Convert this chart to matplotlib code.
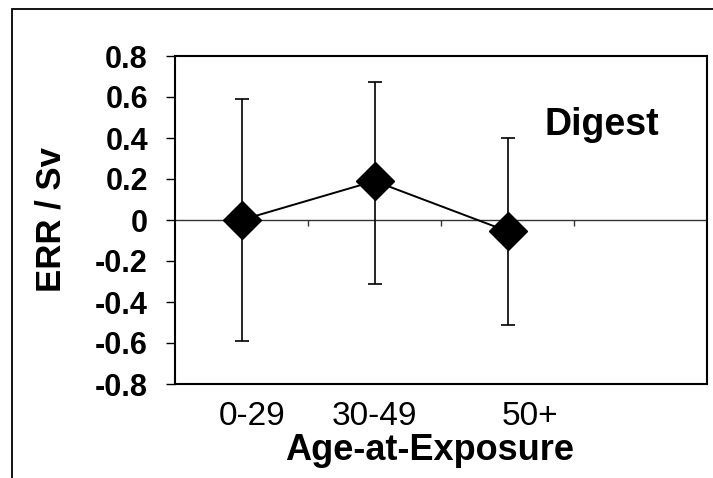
import numpy as np
import matplotlib
matplotlib.use("Agg")
import matplotlib.pyplot as plt
from matplotlib.patches import Rectangle

# values
categories = ["0-29", "30-49", "50+"]
err_per_sv = [0.0, 0.19, -0.055]
ci_low = [-0.59, -0.31, -0.51]
ci_high = [0.59, 0.675, 0.40]
y_ticks = [-0.8, -0.6, -0.4, -0.2, 0, 0.2, 0.4, 0.6, 0.8]
y_tick_labels = ["-0.8", "-0.6", "-0.4", "-0.2", "0", "0.2", "0.4", "0.6", "0.8"]
n_slots = 4  # the category axis has one empty slot on the right
label_shift = [0.08, 0.0, 0.17]  # tick labels sit a little right of the points

plt.rcParams['font.family'] = ['Liberation Sans', 'DejaVu Sans']

fig = plt.figure(figsize=(7.13, 4.78), dpi=100)
ax = fig.add_axes([175 / 713, 94 / 478, 532 / 713, 328 / 478])

x = np.arange(len(categories))
y = np.array(err_per_sv)
yerr = [y - np.array(ci_low), np.array(ci_high) - y]

# zero line acting as the category axis
ax.axhline(0, color='#333333', lw=1.0, zorder=1)
bounds = np.arange(n_slots - 1) + 0.5
ax.vlines(bounds, -0.03, 0, color='#333333', lw=1.0, zorder=1)

ax.errorbar(x, y, yerr=yerr, fmt='none', ecolor='black', elinewidth=1.2,
            capsize=5, capthick=1.2, zorder=2)
ax.plot(x, y, color='black', lw=1.4, marker='D', markersize=19.5,
        markerfacecolor='black', markeredgecolor='black', zorder=3)

ax.set_xlim(-0.5, n_slots - 0.5)
ax.set_ylim(-0.8, 0.8)
ax.set_yticks(y_ticks)
ax.set_yticklabels(y_tick_labels, fontsize=22, fontweight='bold')
ax.tick_params(axis='y', length=6.5, width=1.0, pad=13, direction='out')

ax.set_xticks(x + np.array(label_shift))
ax.set_xticklabels(categories, fontsize=24)
ax.tick_params(axis='x', length=0, pad=12)

for s in ax.spines.values():
    s.set_linewidth(1.5)

ax.set_xlabel("Age-at-Exposure", fontsize=26, fontweight='bold', labelpad=0)
ax.xaxis.set_label_coords((430 - 175) / 532, -0.15)
ax.set_ylabel("ERR / Sv", fontsize=25, fontweight='bold')
ax.yaxis.set_label_coords((68 - 175) / 532, 0.5)

ax.text(0.695, 0.759, "Digest", transform=ax.transAxes, fontsize=27,
        fontweight='bold', ha='left', va='baseline')

# outer chart frame (left and top edges visible)
fig.patches.append(Rectangle((11.5 / 713, -0.1), 1.2, 1.1 - 9.5 / 478,
                             transform=fig.transFigure, fill=False,
                             edgecolor='black', lw=1.3))

fig.savefig("out.png", dpi=100)
